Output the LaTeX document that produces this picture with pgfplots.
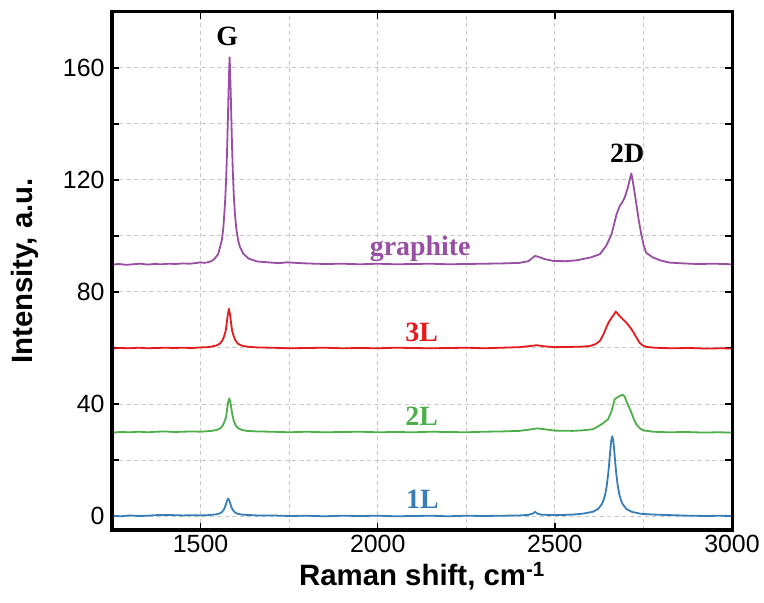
\documentclass[border=0pt]{standalone}
\usepackage{fontspec}
\setmainfont{Liberation Sans}
\newfontfamily\tnr{Liberation Serif}
\usepackage{pgfplots}
\pgfplotsset{compat=1.18}
\definecolor{cpur}{RGB}{152,78,163}
\definecolor{cred}{RGB}{228,26,28}
\definecolor{cgrn}{RGB}{77,175,74}
\definecolor{cblu}{RGB}{55,126,184}
\begin{document}
\begin{tikzpicture}
\begin{axis}[
 scale only axis, width=620bp, height=518bp,
 xmin=1250, xmax=3000, ymin=-5, ymax=180,
 xtick={1500,2000,2500,3000},
 minor xtick={1750,2250,2750},
 ytick={0,20,...,160},
 yticklabels={0,,40,,80,,120,,160},
 grid=both,
 grid style={dash pattern=on 4bp off 3.5bp, color=black!22, line width=1bp},
 minor grid style={dash pattern=on 4bp off 3.5bp, color=black!22, line width=1bp},
 tick align=inside, major tick length=7bp, minor tick length=0pt,
 tick style={black, line width=1.4bp},
 axis line style={line width=3bp},
 ticklabel style={font=\fontsize{25}{25}\selectfont},
 yticklabel style={xshift=-4bp},
 xticklabel style={yshift=-2bp},
 /pgf/number format/assume math mode=true,
 /pgf/number format/set thousands separator={},
 xlabel={Raman shift, cm\textsuperscript{-1}},
 ylabel={Intensity, a.u.},
 xlabel style={at={(axis description cs:0.5,0)}, anchor=base, yshift=-55bp},
 ylabel style={at={(axis description cs:-0.1403,0.5)}, anchor=center},
 label style={font=\fontsize{29.5}{30}\selectfont\bfseries},
 every axis plot/.append style={line width=1.8bp, line join=round},
 clip=true,
]
% 1L
\addplot[cblu] table {
1250 0.1
1275 -0.1
1300 0.2
1325 0.0
1350 0.1
1375 0.3
1400 0.4
1425 0.3
1450 0.2
1475 0.3
1500 0.2
1520 0.3
1528 0.4
1543 0.57
1553 0.88
1560 1.4
1565 2.15
1569 3.2
1572 4.35
1575 5.6
1578 6.2
1581 5.6
1584 4.35
1587 3.2
1591 2.15
1596 1.4
1603 0.88
1613 0.57
1628 0.4
1660 0.2
1700 0.2
1750 0.0
1800 0.1
1850 -0.1
1900 0.1
1950 0.0
2000 0.1
2050 -0.1
2100 0.0
2150 0.1
2200 -0.1
2250 0.1
2300 0.0
2350 0.1
2400 0.2
2425 0.4
2438 0.9
2444 1.5
2450 0.9
2460 0.5
2480 0.4
2500 0.3
2530 0.4
2560 0.6
2582 0.9
2607 1.5
2622 2.5
2632 4.1
2637 5.5
2642 7.7
2646 10.4
2650 14.4
2653 18.3
2656 22.8
2659 26.8
2662 28.5
2665 26.8
2668 22.8
2671 18.3
2674 14.4
2678 10.4
2682 7.7
2687 5.5
2692 4.1
2702 2.5
2717 1.5
2742 0.8
2780 0.5
2830 0.3
2880 0.1
2930 0.0
2970 0.1
3000 0.0
};
% 2L
\addplot[cgrn] table {
1250 29.8
1275 30.0
1300 29.9
1325 30.1
1350 29.9
1375 30.1
1400 30.2
1425 30.0
1450 30.1
1475 30.2
1500 30.1
1520 30.3
1531 30.4
1546 30.75
1556 31.35
1563 32.4
1568 33.9
1572 35.3
1575 38.3
1578 40.8
1581 42.0
1584 40.8
1587 38.3
1590 36.0
1594 33.9
1599 32.4
1606 31.35
1616 30.75
1631 30.4
1660 30.2
1700 30.1
1750 29.9
1800 30.1
1850 29.9
1900 30.0
1950 30.1
2000 29.9
2050 30.0
2100 29.9
2150 30.1
2200 30.0
2250 29.9
2300 30.1
2350 30.2
2400 30.4
2430 30.9
2450 31.3
2470 31.0
2500 30.5
2550 30.4
2580 30.6
2608 31.0
2631 32.7
2650 34.5
2660 37.5
2669 41.7
2678 42.5
2685 43.0
2692 43.3
2697 42.7
2702 41.0
2709 39.0
2716 36.9
2723 34.6
2730 32.7
2740 31.3
2749 30.6
2777 30.1
2820 29.9
2870 30.0
2920 29.8
2960 29.9
3000 29.8
};
% 3L
\addplot[cred] table {
1250 59.8
1275 60.0
1300 59.9
1325 60.1
1350 59.9
1375 60.0
1400 60.1
1425 60.0
1450 60.1
1475 60.0
1500 60.2
1520 60.3
1530 60.5
1545 60.9
1555 61.6
1562 62.8
1567 64.4
1571 66.2
1574 69.0
1577 72.0
1580 74.0
1583 72.0
1586 69.0
1589 66.2
1593 64.4
1598 62.8
1605 61.6
1615 60.9
1630 60.5
1660 60.2
1700 60.1
1750 59.9
1800 60.0
1850 60.1
1900 59.9
1950 60.0
2000 59.9
2050 60.1
2100 60.0
2150 59.9
2200 60.0
2250 60.1
2300 59.9
2350 60.1
2400 60.3
2430 60.7
2449 61.0
2470 60.6
2500 60.3
2550 60.4
2580 60.5
2599 60.7
2615 61.4
2627 62.5
2637 64.8
2645 67.3
2652 69.2
2660 70.8
2667 72.0
2672 73.0
2677 72.3
2683 71.4
2692 70.3
2702 69.0
2711 67.6
2720 66.0
2730 63.8
2739 61.9
2748 60.9
2758 60.4
2780 60.1
2830 59.9
2880 60.0
2930 59.8
2970 59.9
3000 59.8
};
% graphite
\addplot[cpur] table {
1250 89.8
1270 90.0
1290 89.7
1310 89.9
1330 90.1
1350 89.8
1370 90.0
1390 89.9
1410 90.1
1430 90.0
1450 90.2
1470 90.1
1490 90.4
1500 90.6
1510 90.4
1520 90.6
1530 91.0
1540 91.9
1550 93.6
1555 96.1
1560 98.5
1564 102.5
1567 107.8
1570 114.0
1573 123.1
1575 131.3
1577 141.2
1579 151.8
1581 160.5
1582 163.8
1583 160.5
1585 151.8
1587 141.2
1589 131.3
1591 123.1
1594 114.0
1597 107.8
1601 102.5
1606 98.5
1611 96.1
1621 93.6
1636 91.9
1660 90.9
1700 90.5
1720 90.3
1745 90.6
1770 90.4
1800 90.2
1850 90.0
1900 90.1
1950 89.9
2000 90.1
2050 89.9
2100 90.0
2150 90.1
2200 89.9
2250 90.0
2300 90.1
2350 90.2
2400 90.4
2425 91.0
2435 92.0
2444 92.9
2455 92.5
2470 91.8
2495 91.1
2530 91.0
2560 91.3
2600 92.3
2627 93.5
2645 96.5
2660 100.6
2674 107.7
2683 110.7
2690 112.0
2697 113.7
2706 117.3
2712 120.5
2716 122.3
2722 118.0
2730 111.4
2737 105.5
2744 100.6
2751 96.5
2758 94.0
2777 92.3
2800 91.2
2824 90.5
2850 90.3
2900 90.0
2950 90.1
3000 89.9
};
\node[font=\tnr\bfseries\fontsize{28}{28}\selectfont, anchor=base] at (axis cs:1575,168) {G};
\node[font=\tnr\bfseries\fontsize{28}{28}\selectfont, anchor=base] at (axis cs:2704,126.4) {2D};
\node[font=\tnr\bfseries\fontsize{28}{28}\selectfont, anchor=base, text=cpur] at (axis cs:2120,92.9) {graphite};
\node[font=\tnr\bfseries\fontsize{28}{28}\selectfont, anchor=base, text=cred] at (axis cs:2124,62.5) {3L};
\node[font=\tnr\bfseries\fontsize{28}{28}\selectfont, anchor=base, text=cgrn] at (axis cs:2124,32.5) {2L};
\node[font=\tnr\bfseries\fontsize{28}{28}\selectfont, anchor=base, text=cblu] at (axis cs:2126,2.6) {1L};
\end{axis}
\draw[line width=3bp] (current axis.south west) rectangle (current axis.north east);
\pgfresetboundingbox
\path[use as bounding box] ([xshift=-112bp,yshift=-73bp]current axis.south west) rectangle ([xshift=32bp,yshift=12bp]current axis.north east);
\end{tikzpicture}
\end{document}
